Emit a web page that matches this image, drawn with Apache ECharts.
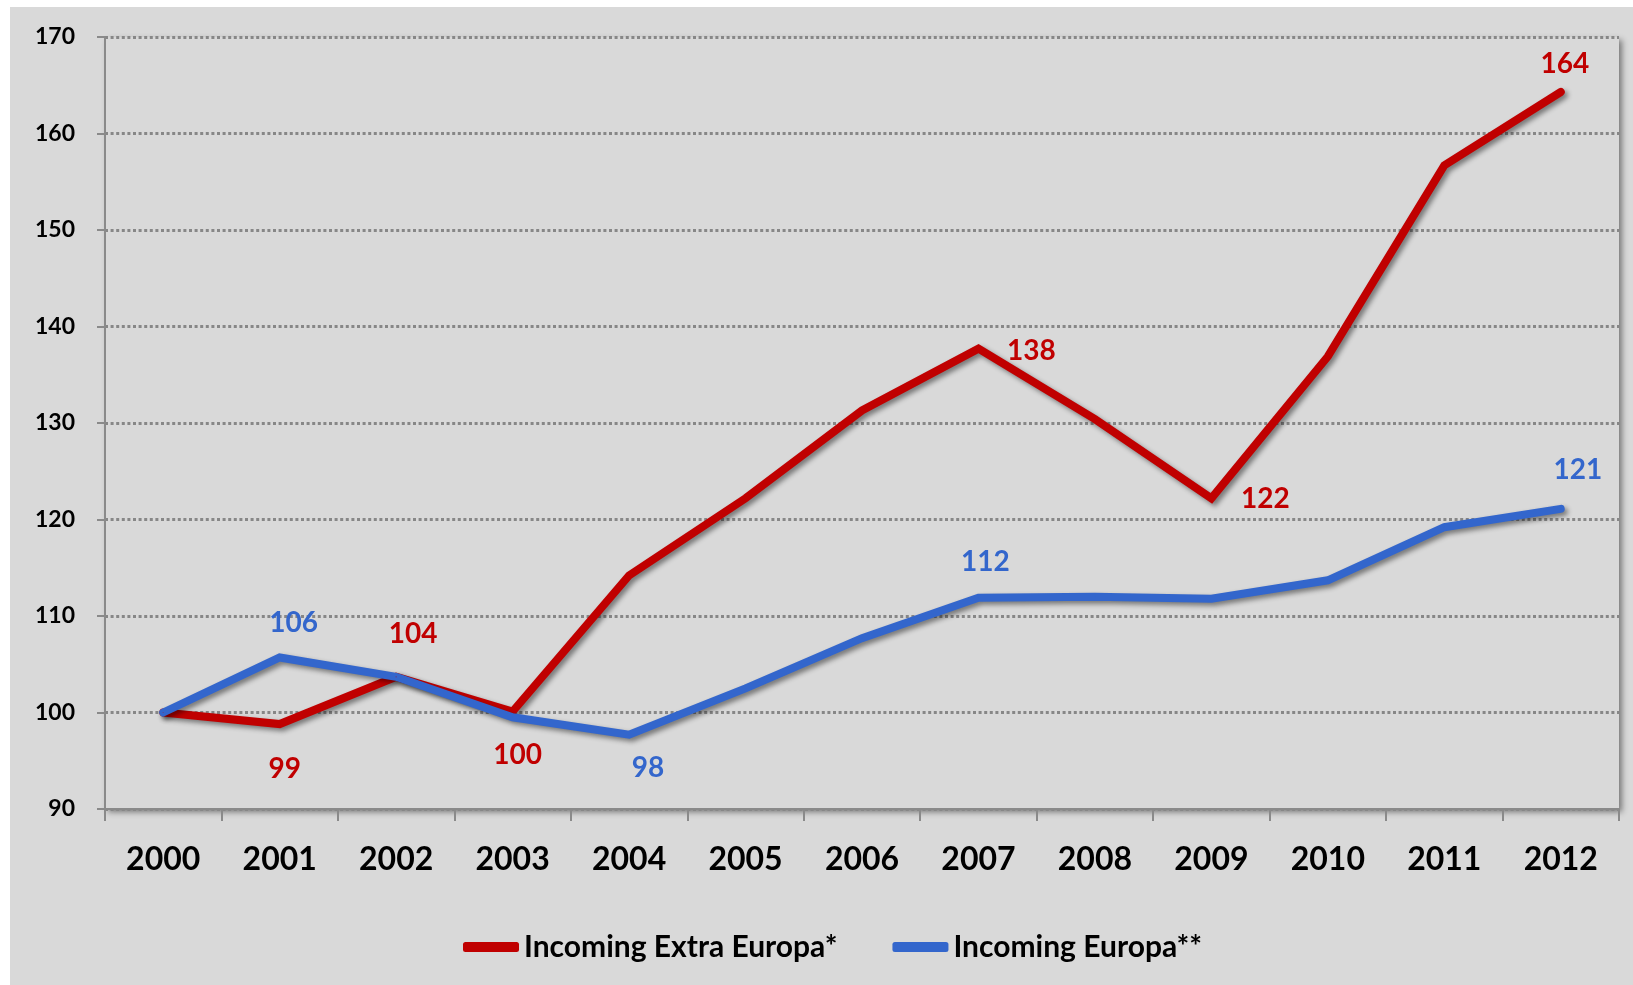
<!DOCTYPE html>
<html>
<head>
<meta charset="utf-8">
<script src="https://cdn.jsdelivr.net/npm/echarts@6/dist/echarts.min.js"></script>
<style>
  html, body { margin: 0; padding: 0; background: #ffffff; }
  #chart { position: absolute; left: 10px; top: 7px; width: 1623px; height: 978px; }
</style>
</head>
<body>
<div id="chart"></div>
<script>
// data
var years = ['2000', '2001', '2002', '2003', '2004', '2005', '2006', '2007', '2008', '2009', '2010', '2011', '2012'];
var extraEuropa = [100, 98.8, 103.7, 100.1, 114.2, 122.2, 131.3, 137.7, 130.4, 122.2, 136.9, 156.7, 164.3];
var europa = [100, 105.7, 103.7, 99.5, 97.7, 102.5, 107.7, 111.9, 112.0, 111.8, 113.7, 119.2, 121.1];
var yTicks = { min: 90, max: 170, step: 10 };

// which points get a value label, and where it sits (px offset from the point)
var extraLabels = { 1: [5, 45], 2: [17, -43], 3: [5, 43], 7: [53, 2], 9: [54, 1], 12: [4, -28] };
var europaLabels = { 1: [14, -35], 4: [19, 33], 7: [7, -36], 12: [17, -39] };

var RED = '#C00000';
var BLUE = '#3366CC';
var FONT = 'Lato, "Noto Sans", sans-serif';

function buildData(values, labels, color) {
  return values.map(function (v, i) {
    var item = { value: v };
    if (labels[i]) {
      item.label = {
        show: true,
        position: 'inside',
        offset: labels[i],
        color: color,
        fontFamily: FONT,
        fontWeight: 'bold',
        fontSize: 28,
        formatter: function (p) { return Math.round(p.value); }
      };
    }
    return item;
  });
}

function lineSeries(name, values, labels, color) {
  return {
    name: name,
    type: 'line',
    data: buildData(values, labels, color),
    symbol: 'circle',
    symbolSize: 1,
    showSymbol: true,
    itemStyle: { color: color },
    lineStyle: {
      color: color,
      width: 8,
      cap: 'round',
      join: 'miter',
      shadowColor: 'rgba(0,0,0,0.45)',
      shadowBlur: 5,
      shadowOffsetX: 3,
      shadowOffsetY: 3
    },
    label: { show: false },
    animation: false
  };
}

var chart = echarts.init(document.getElementById('chart'), null, { renderer: 'canvas' });

var option = {
  backgroundColor: '#D9D9D9',
  animation: false,
  grid: {
    left: 95, top: 30, right: 14, bottom: 176,
    show: true,
    backgroundColor: '#D9D9D9',
    borderWidth: 0,
    shadowColor: 'rgba(0,0,0,0.45)',
    shadowBlur: 6,
    shadowOffsetX: 3,
    shadowOffsetY: 3
  },
  legend: {
    left: 453,
    top: 925,
    padding: 0,
    itemWidth: 56,
    itemHeight: 10,
    itemGap: 55,
    icon: 'roundRect',
    textStyle: { fontFamily: FONT, fontSize: 30, color: '#000', fontWeight: 'bold' },
    data: ['Incoming Extra Europa*', 'Incoming Europa**']
  },
  xAxis: {
    type: 'category',
    data: years,
    boundaryGap: true,
    axisLine: { lineStyle: { color: '#8a8a8a', width: 2 } },
    axisTick: { show: true, length: 12, lineStyle: { color: '#8a8a8a', width: 2 } },
    axisLabel: { color: '#000', fontFamily: FONT, fontWeight: 'bold', fontSize: 32, margin: 35 }
  },
  yAxis: {
    type: 'value',
    min: yTicks.min,
    max: yTicks.max,
    interval: yTicks.step,
    axisLine: { show: true, lineStyle: { color: '#8a8a8a', width: 2 } },
    axisTick: { show: true, length: 8, lineStyle: { color: '#8a8a8a', width: 2 } },
    axisLabel: { color: '#000', fontFamily: FONT, fontWeight: 'bold', fontSize: 23, margin: 30 },
    splitLine: { show: true, lineStyle: { color: '#878787', width: 3, type: [3, 2.6] } }
  },
  series: [
    lineSeries('Incoming Extra Europa*', extraEuropa, extraLabels, RED),
    lineSeries('Incoming Europa**', europa, europaLabels, BLUE)
  ]
};

chart.setOption(option);
</script>
</body>
</html>
